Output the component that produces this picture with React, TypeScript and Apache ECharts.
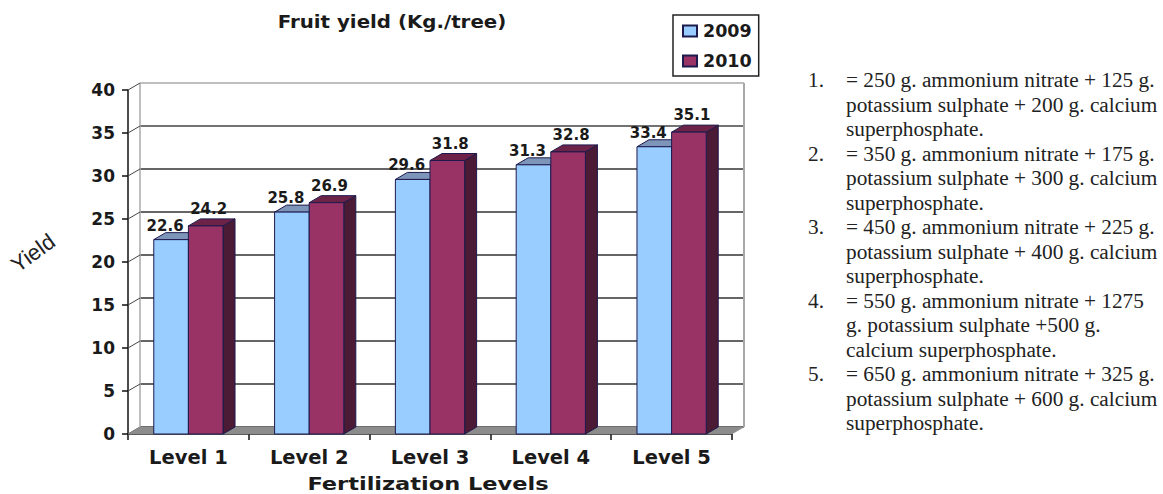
import React, { useEffect, useRef } from "react";
import * as echarts from "echarts";

const categories = ["Level 1", "Level 2", "Level 3", "Level 4", "Level 5"];
const values2009 = [22.6, 25.8, 29.6, 31.3, 33.4];
const values2010 = [24.2, 26.9, 31.8, 32.8, 35.1];
const noteNumbers = ["1.", "2.", "3.", "4.", "5."];
const noteLines = [
  ["= 250 g. ammonium nitrate + 125 g.", "potassium sulphate + 200 g. calcium", "superphosphate."],
  ["= 350 g. ammonium nitrate + 175 g.", "potassium sulphate + 300 g. calcium", "superphosphate."],
  ["= 450 g. ammonium nitrate + 225 g.", "potassium sulphate + 400 g. calcium", "superphosphate."],
  ["= 550 g. ammonium nitrate + 1275", "g. potassium sulphate +500 g.", "calcium superphosphate."],
  ["= 650 g. ammonium nitrate + 325 g.", "potassium sulphate + 600 g. calcium", "superphosphate."],
];
const yTicks = [0, 5, 10, 15, 20, 25, 30, 35, 40];

const DX = 12;
const DY = -7;
const BOLD = '"DejaVu Sans", sans-serif';
const EDGE = "#1d1a4d";

function bar3d(side: -1 | 1, front: string, top: string, flank: string, labelShift: number, labelRise: number) {
  return (params: any, api: any) => {
    const cat = api.value(0);
    const val = api.value(1);
    const [cx, yTop] = api.coord([cat, val]);
    const [, yBase] = api.coord([cat, 0]);
    const w = api.size([1, 0])[0] * 0.2866;
    const x0 = side < 0 ? cx - w : cx;
    const x1 = x0 + w;
    const line = { stroke: EDGE, lineWidth: 1 };
    return {
      type: "group",
      children: [
        { type: "polygon", shape: { points: [[x1, yBase], [x1 + DX, yBase + DY], [x1 + DX, yTop + DY], [x1, yTop]] }, style: { fill: flank, ...line } },
        { type: "polygon", shape: { points: [[x0, yTop], [x0 + DX, yTop + DY], [x1 + DX, yTop + DY], [x1, yTop]] }, style: { fill: top, ...line } },
        { type: "rect", shape: { x: x0, y: yTop, width: w, height: yBase - yTop }, style: { fill: front, ...line } },
        {
          type: "text",
          z2: 50,
          style: {
            text: val.toFixed(1),
            x: cx + (side < 0 ? -w / 2 : w / 2) + labelShift,
            y: yTop - labelRise,
            align: "center",
            verticalAlign: "middle",
            font: `bold 15px ${BOLD}`,
            fill: "#1a1a1a",
          },
        },
      ],
    };
  };
}

function frameItem(params: any, api: any) {
  const c = params.coordSys;
  const v = api.value(0);
  const y = api.coord([0, v])[1];
  const l = c.x;
  const r = c.x + c.width;
  const b = c.y + c.height;
  const t = c.y;
  const children: any[] = [
    { type: "line", shape: { x1: l, y1: y, x2: l + DX, y2: y + DY }, style: { stroke: "#444", lineWidth: 1 } },
  ];
  if (v === 0) {
    children.push(
      { type: "polygon", shape: { points: [[l, b], [l + DX, b + DY], [r + DX, b + DY], [r, b]] }, style: { fill: "#8c8c8c", stroke: "#8c8c8c", lineWidth: 0.5 } },
      { type: "line", shape: { x1: r + DX, y1: t + DY, x2: r + DX, y2: b + DY }, style: { stroke: "#a8a8a8", lineWidth: 2 } },
      { type: "line", shape: { x1: l + DX, y1: t + DY, x2: l + DX, y2: b + DY }, style: { stroke: "#a8a8a8", lineWidth: 1.5 } },
    );
  }
  return { type: "group", children };
}

export default function App() {
  const ref = useRef<HTMLDivElement>(null);
  useEffect(() => {
    if (!ref.current) return;
    const chart = echarts.init(ref.current, null, { renderer: "svg" });
    const notes: any[] = [];
    const noteFont = '21.3px "Liberation Serif", serif';
    noteLines.forEach((lines, i) => {
      notes.push({
        type: "text",
        style: { text: noteNumbers[i], x: 808, y: 80 + i * 3 * 24.5, verticalAlign: "middle", font: noteFont, fill: "#222" },
      });
      lines.forEach((line, j) => {
        notes.push({
          type: "text",
          style: { text: line, x: 846, y: 80 + (i * 3 + j) * 24.5, verticalAlign: "middle", font: noteFont, fill: "#222" },
        });
      });
    });
    chart.setOption({
      animation: false,
      backgroundColor: "#fff",
      grid: [
        { left: 128, width: 604, top: 90, height: 344 },
        { left: 140, width: 604, top: 83, height: 344 },
      ],
      xAxis: [
        {
          type: "category",
          gridIndex: 0,
          data: categories,
          axisLine: { lineStyle: { color: "#111", width: 1.5 } },
          axisTick: { show: true, length: 6, lineStyle: { color: "#111", width: 1.5 } },
          axisLabel: { color: "#1a1a1a", fontFamily: BOLD, fontWeight: "bold", fontSize: 19.5, margin: 13 },
        },
        { type: "category", gridIndex: 1, data: categories, show: false },
      ],
      yAxis: [
        {
          type: "value",
          gridIndex: 0,
          min: 0,
          max: 40,
          interval: 5,
          axisLine: { show: true, lineStyle: { color: "#111", width: 1.5 } },
          axisTick: { show: true, length: 6, lineStyle: { color: "#111", width: 1.5 } },
          axisLabel: { color: "#1a1a1a", fontFamily: BOLD, fontWeight: "bold", fontSize: 17, margin: 13 },
          splitLine: { show: false },
        },
        {
          type: "value",
          gridIndex: 1,
          min: 0,
          max: 40,
          interval: 5,
          axisLine: { show: false },
          axisTick: { show: false },
          axisLabel: { show: false },
          splitLine: {
            show: true,
            lineStyle: { color: ["#333", "#333", "#333", "#333", "#333", "#333", "#333", "#444", "#a8a8a8"], width: 1.5 },
          },
        },
      ],
      legend: {
        left: 673,
        top: 15,
        orient: "vertical",
        data: ["2009", "2010"],
        icon: "rect",
        itemWidth: 14,
        itemHeight: 11,
        itemGap: 12,
        padding: [7, 7, 6, 9],
        borderColor: "#222",
        borderWidth: 1.5,
        borderRadius: 0,
        textStyle: { color: "#1a1a1a", fontFamily: BOLD, fontWeight: "bold", fontSize: 17.5, padding: [0, 0, 0, 1] },
      },
      series: [
        {
          type: "custom",
          name: "frame",
          xAxisIndex: 0,
          yAxisIndex: 0,
          data: yTicks.map((v) => [v]),
          encode: { y: 0 },
          renderItem: frameItem,
          silent: true,
          z: 1,
        },
        {
          type: "custom",
          name: "2009",
          xAxisIndex: 0,
          yAxisIndex: 0,
          itemStyle: { color: "#99ccff", borderColor: EDGE, borderWidth: 1 },
          data: values2009.map((v, i) => [i, v]),
          encode: { x: 0, y: 1 },
          renderItem: bar3d(-1, "#99ccff", "#7c95b8", "#4d6a8c", -6, 14),
          z: 3,
        },
        {
          type: "custom",
          name: "2010",
          xAxisIndex: 0,
          yAxisIndex: 0,
          itemStyle: { color: "#993366", borderColor: EDGE, borderWidth: 1 },
          data: values2010.map((v, i) => [i, v]),
          encode: { x: 0, y: 1 },
          renderItem: bar3d(1, "#993366", "#6c2347", "#4b1a34", 3, 17),
          z: 4,
        },
        {
          type: "custom",
          name: "backWall",
          xAxisIndex: 1,
          yAxisIndex: 1,
          data: [],
          renderItem: () => ({ type: "group", children: [] }),
          silent: true,
        },
      ],
      graphic: [
        {
          type: "text",
          x: 392,
          y: 21,
          scaleX: 1.1,
          style: { text: "Fruit yield (Kg./tree)", align: "center", verticalAlign: "middle", font: `bold 18px ${BOLD}`, fill: "#1a1a1a" },
        },
        {
          type: "text",
          x: 428,
          y: 484,
          scaleX: 1.25,
          style: { text: "Fertilization Levels", align: "center", verticalAlign: "middle", font: `bold 18px ${BOLD}`, fill: "#1a1a1a" },
        },
        {
          type: "text",
          x: 33,
          y: 253,
          rotation: (36 * Math.PI) / 180,
          style: { text: "Yield", align: "center", verticalAlign: "middle", font: '22px "Liberation Sans", sans-serif', fill: "#222" },
        },
        ...notes,
      ],
    });
    return () => chart.dispose();
  }, []);
  return <div ref={ref} style={{ position: "absolute", left: 0, top: 0, width: 1163, height: 494 }} />;
}
